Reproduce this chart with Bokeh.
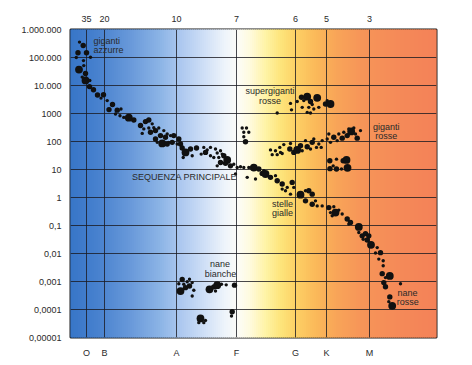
import math
import numpy as np
from bokeh.plotting import figure
from bokeh.models import LinearAxis, FixedTicker, Label, Range1d, ColumnDataSource
from bokeh.embed import file_html
from bokeh.resources import INLINE

# ---------------- data ----------------
# spectral classes along the x axis and surface temperatures (x1000 °C)
classes = ["O", "B", "A", "F", "G", "K", "M"]
class_pos = [16, 34, 106, 166, 225, 256, 299]
temps = ["35", "20", "10", "7", "6", "5", "3"]

# luminosity (log10, Sun = 1) ticks and labels
lum_ticks = [6, 5, 4, 3, 2, 1, 0, -1, -2, -3, -4, -5]
lum_labels = ["1.000.000", "100.000", "10.000", "1000", "100", "10", "1",
              "0,1", "0,01", "0,001", "0,0001", "0,00001"]

# star groups: x = spectral position, log_lum = log10 luminosity, cls = dot size class (1 small, 2 medium, 3 large)
blue_x = [9.0, 12.7, 7.5, 16.0, 20.0, 5.8, 13.0, 13.3, 8.5, 15.0, 11.7, 15.0, 19.3]
blue_log_lum = [5.55, 5.43, 5.17, 5.17, 5.01, 5.00, 4.89, 4.71, 4.57, 4.43, 4.30, 4.18, 4.18]
blue_cls = [1, 2, 2, 2, 1, 1, 1, 1, 3, 2, 1, 3, 1]

seq_x = [19.0, 23.0, 27.0, 33.0, 30.5, 36.7, 42.0, 38.5, 46.7, 50.5, 45.0, 49.5, 53.3, 58.3, 63.3,
         70.0, 75.0, 78.3, 73.3, 78.3, 81.7, 83.3, 71.7, 80.0, 85.0, 88.3, 90.0, 93.3, 96.7, 85.0,
         95.0, 100.0, 103.3, 98.3, 86.7, 91.7, 96.7, 101.7, 108.3, 106.7, 110.0, 111.7, 115.0, 120.0, 126.0,
         121.7, 112.7, 130.7, 140.0, 133.3, 136.7, 140.0, 145.0, 146.7, 150.0, 151.7, 153.3, 156.7, 155.0, 160.0,
         135.0, 143.3, 148.3, 146.7, 150.0, 163.3, 166.7, 165.0, 170.0, 173.3, 178.3, 176.7, 183.3, 185.0, 188.3,
         191.7, 193.3, 195.0, 200.0, 205.0, 206.7, 211.7, 215.0, 216.7, 211.7, 221.7, 223.3, 220.0, 230.0, 235.0,
         238.3, 241.7, 235.0, 241.7, 245.0, 246.7, 251.7, 258.3, 263.3, 265.0, 268.3, 260.0, 261.7, 271.7, 276.7,
         280.0, 278.3, 288.3, 288.3, 291.7, 295.0, 298.3, 292.7, 296.7, 300.5, 306.7, 305.0, 310.0, 308.3, 312.7,
         312.7, 311.7, 319.3, 315.0, 313.3, 315.0, 319.3, 318.3, 321.7, 330.0]
seq_log_lum = [3.96, 3.85, 3.66, 3.67, 3.55, 3.46, 3.32, 3.14, 3.12, 3.16, 2.98, 2.92, 2.86, 2.85, 2.77,
               2.57, 2.71, 2.77, 2.45, 2.48, 2.63, 2.49, 2.29, 2.33, 2.39, 2.48, 2.21, 2.39, 2.27, 2.09,
               2.15, 2.21, 2.21, 1.97, 1.97, 1.93, 1.91, 1.97, 2.09, 1.91, 1.91, 1.77, 1.61, 1.73, 1.77,
               1.49, 1.43, 1.55, 1.49, 1.79, 1.70, 1.79, 1.73, 1.59, 1.67, 1.55, 1.49, 1.34, 1.22, 1.13,
               1.61, 1.43, 1.43, 1.13, 1.25, 1.19, 1.07, 0.84, 1.10, 1.07, 1.07, 0.72, 1.07, 0.66, 1.02,
               0.86, 0.96, 0.84, 0.72, 0.78, 0.60, 0.48, 0.24, 0.36, 0.30, 0.54, 0.36, 0.12, 0.10, 0.24,
               0.24, 0.12, -0.12, -0.24, -0.12, -0.30, -0.30, -0.36, -0.33, -0.54, -0.45, -0.54, -0.65, -0.59, -0.77,
               -0.89, -0.95, -1.05, -1.25, -1.37, -1.29, -1.37, -1.49, -1.52, -1.69, -1.79, -1.98, -1.97, -2.20, -2.26,
               -2.44, -2.72, -2.80, -2.86, -3.04, -3.19, -3.55, -3.72, -3.87, -3.08]
seq_cls = [2, 2, 2, 2, 1, 1, 2, 2, 2, 1, 1, 1, 1, 3, 2,
           2, 2, 2, 1, 1, 1, 1, 1, 2, 2, 1, 2, 1, 1, 2,
           2, 1, 2, 1, 1, 3, 2, 2, 2, 1, 2, 2, 3, 2, 2,
           1, 1, 1, 1, 1, 1, 1, 1, 1, 1, 1, 2, 3, 2, 2,
           2, 1, 1, 1, 2, 1, 1, 1, 1, 1, 1, 1, 3, 1, 2,
           2, 1, 3, 2, 1, 2, 2, 1, 1, 1, 2, 1, 1, 3, 1,
           2, 2, 2, 2, 1, 1, 1, 2, 1, 3, 1, 1, 1, 1, 2,
           2, 1, 3, 1, 2, 2, 2, 1, 2, 3, 1, 1, 2, 1, 1,
           1, 2, 3, 1, 2, 2, 2, 1, 3, 1]

fgiant_x = [171.7, 176.0, 173.3, 178.3, 173.3, 175.0]
fgiant_log_lum = [2.48, 2.48, 2.33, 2.33, 2.17, 1.99]
fgiant_cls = [1, 1, 1, 1, 1, 2]

super_x = [206.7, 220.0, 221.0, 226.7, 231.0, 236.7, 240.0, 246.7, 231.7, 238.3, 241.7, 243.3, 248.3,
           236.7, 240.0, 255.0, 260.0, 256.7, 233.3]
super_log_lum = [3.02, 3.36, 3.13, 3.43, 3.58, 3.60, 3.43, 3.56, 3.22, 3.22, 3.32, 3.16, 3.22,
                 3.04, 3.02, 3.34, 3.34, 3.46, 3.46]
super_cls = [1, 1, 1, 1, 2, 3, 2, 3, 1, 1, 1, 1, 1, 1, 1, 2, 3, 1, 1]

red_x = [200.0, 205.0, 210.0, 201.7, 206.7, 211.7, 209.3, 213.3, 219.3, 220.0, 223.3, 226.7, 230.0, 231.7,
         235.0, 236.7, 240.0, 241.7, 243.3, 246.0, 248.3, 250.7, 251.7, 256.7, 258.3, 260.0, 263.3, 266.7,
         268.3, 271.7, 273.3, 276.7, 278.3, 280.7, 283.3, 285.0, 286.7, 290.0]
red_log_lum = [1.70, 1.67, 1.61, 1.53, 1.53, 1.57, 1.79, 1.89, 1.73, 1.93, 1.61, 1.70, 1.85, 1.67,
               2.03, 1.81, 1.73, 1.97, 2.09, 1.79, 1.91, 1.79, 2.03, 2.09, 2.27, 1.97, 2.15, 2.03,
               2.27, 2.12, 2.33, 2.21, 2.45, 2.36, 2.48, 2.27, 2.12, 2.39]
red_cls = [1, 1, 1, 1, 1, 1, 1, 1, 2, 1, 2, 3, 2, 1,
           1, 2, 1, 2, 1, 1, 1, 1, 1, 1, 1, 1, 2, 1,
           1, 2, 1, 2, 1, 3, 1, 1, 2, 1]

kclump_x = [259.3, 266.0, 272.7, 276.0, 262.7, 259.5, 266.0, 271.0, 277.0]
kclump_log_lum = [1.31, 1.37, 1.31, 1.34, 1.13, 1.03, 1.02, 1.02, 1.06]
kclump_cls = [2, 1, 2, 3, 1, 2, 2, 1, 3]

white_x = [111.7, 108.3, 113.3, 116.7, 119.0, 121.7, 110.0, 115.0, 119.0, 123.3, 121.7, 139.0, 143.3,
           146.7, 151.0, 155.7, 145.0, 164.0, 130.0, 133.3, 128.3, 135.0, 161.7, 161.0]
white_log_lum = [-2.93, -3.08, -3.10, -3.01, -2.92, -3.04, -3.34, -3.22, -3.16, -3.31, -3.52, -3.28, -3.19,
                 -3.13, -3.10, -3.12, -3.34, -3.13, -4.32, -4.47, -4.47, -4.39, -4.08, -4.23]
white_cls = [2, 1, 1, 1, 1, 1, 3, 2, 2, 1, 1, 3, 2, 3, 1, 1, 1, 2, 3, 1, 1, 1, 2, 1]

# ---------------- figure ----------------
FONT = "Liberation Sans"
TXT = "#2a2a2a"

p = figure(width=472, height=365, output_backend="svg", toolbar_location=None,
           x_range=Range1d(0, 366), y_range=Range1d(-5, 6),
           min_border_left=70, min_border_right=36, min_border_top=29, min_border_bottom=28)
p.outline_line_color = "#1c1c1c"
p.outline_line_width = 2
p.background_fill_color = "white"
p.border_fill_color = "white"

# background colour gradient (blue -> white -> yellow -> orange)
stops_x = [0, 25, 60, 90, 110, 135, 155, 168, 180, 195, 210, 225, 245, 265, 290, 330, 366]
stops_c = [(56, 118, 200), (70, 128, 206), (104, 153, 218), (140, 180, 230), (172, 200, 240),
           (208, 224, 247), (238, 244, 251), (253, 253, 248), (255, 251, 222), (255, 244, 168),
           (254, 230, 125), (253, 210, 102), (251, 186, 90), (249, 166, 88), (247, 150, 88),
           (245, 138, 88), (244, 130, 88)]
edges = np.linspace(0, 366, 184)
mids = (edges[:-1] + edges[1:]) / 2
cols = []
for m in mids:
    r = np.interp(m, stops_x, [c[0] for c in stops_c])
    g = np.interp(m, stops_x, [c[1] for c in stops_c])
    b = np.interp(m, stops_x, [c[2] for c in stops_c])
    cols.append("#%02x%02x%02x" % (int(r), int(g), int(b)))
p.quad(left=edges[:-1], right=edges[1:], bottom=-5, top=6, fill_color=cols,
       line_color=cols, line_width=1, level="image")

# grid
p.xgrid.ticker = FixedTicker(ticks=class_pos)
p.ygrid.ticker = FixedTicker(ticks=lum_ticks)
for g in (p.xgrid, p.ygrid):
    g.grid_line_color = "#1a1a22"
    g.grid_line_alpha = 0.8
    g.grid_line_width = 1

# axes
def style_axis(ax):
    ax.axis_line_color = None
    ax.major_tick_line_color = None
    ax.minor_tick_line_color = None
    ax.major_label_text_font = FONT
    ax.major_label_text_font_size = "9px"
    ax.major_label_text_color = TXT

p.xaxis.ticker = FixedTicker(ticks=class_pos)
p.xaxis.major_label_overrides = {k: v for k, v in zip(class_pos, classes)}
p.xaxis.major_label_standoff = 4
style_axis(p.xaxis[0])

p.yaxis.ticker = FixedTicker(ticks=lum_ticks)
p.yaxis.major_label_overrides = {k: v for k, v in zip(lum_ticks, lum_labels)}
p.yaxis.major_label_standoff = 3
style_axis(p.yaxis[0])

top = LinearAxis(ticker=FixedTicker(ticks=class_pos),
                 major_label_overrides={k: v for k, v in zip(class_pos, temps)})
top.major_label_standoff = 2
style_axis(top)
p.add_layout(top, "above")

# stars
SIZES = {1: 3.4, 2: 5.4, 3: 7.8}
groups = [(blue_x, blue_log_lum, blue_cls), (seq_x, seq_log_lum, seq_cls),
          (fgiant_x, fgiant_log_lum, fgiant_cls), (super_x, super_log_lum, super_cls),
          (red_x, red_log_lum, red_cls), (kclump_x, kclump_log_lum, kclump_cls),
          (white_x, white_log_lum, white_cls)]
for gx, gy, gc in groups:
    src = ColumnDataSource(dict(x=gx, y=gy, s=[SIZES[c] for c in gc]))
    p.scatter("x", "y", size="s", source=src, fill_color="#111111", line_color=None)

# texts
def lab(x, y, text, align="center", size="9px", style="normal", angle=0.0):
    p.add_layout(Label(x=x, y=y, text=text, text_align=align, text_baseline="middle",
                       text_font=FONT, text_font_size=size, text_color=TXT,
                       text_font_style=style, angle=angle))

lab(23, 5.58, "giganti", align="left")
lab(23, 5.27, "azzurre", align="left")
lab(199.5, 3.79, "supergiganti")
lab(199.5, 3.43, "rosse")
lab(315.7, 2.53, "giganti")
lab(315.7, 2.18, "rosse")
lab(114, 0.72, "SEQUENZA PRINCIPALE")
lab(222.5, -0.24, "stelle", align="right")
lab(222.5, -0.56, "gialle", align="right")
lab(149.5, -2.38, "nane")
lab(150, -2.72, "bianche")
lab(337, -3.40, "nane")
lab(337.3, -3.72, "rosse")
lab(314, 6.27, "°C", align="left")
lab(333, 6.27, "(× 1000)", align="left")
lab(198, -5.72, "classe spettrale", size="10px", style="italic")
lab(-37, 0.6, "luminosità", size="9.5px", style="italic", angle=math.pi / 2)

open("out.html", "w").write(file_html(p, INLINE))
